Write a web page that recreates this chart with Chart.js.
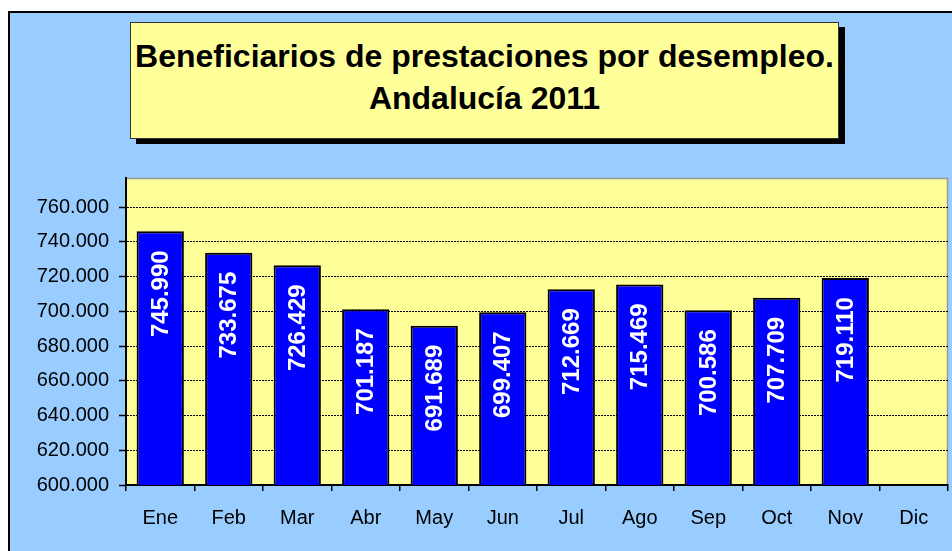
<!DOCTYPE html>
<html>
<head>
<meta charset="utf-8">
<script src="https://cdn.jsdelivr.net/npm/chart.js@4"></script>
<style>
  html, body { margin: 0; padding: 0; background: #fff; }
  #wrap { position: relative; width: 952px; height: 551px; overflow: hidden; }
  #frame {
    position: absolute; left: 8px; top: 11px; width: 960px; height: 560px;
    background: #99ccff; border-left: 2px solid #000; border-top: 2px solid #000;
  }
  #titulo {
    position: absolute; left: 130px; top: 22px; width: 707px; height: 103px;
    background: #ffff99; border: 1px solid #333; box-shadow: 6px 5px 0 #000;
    font-family: "Liberation Sans", Arial, sans-serif; font-weight: bold; font-size: 32px;
    text-align: center; line-height: 42px; padding-top: 12px; box-sizing: content-box;
  }
  #titulo div { height: 42px; }
  canvas { position: absolute; left: 0; top: 0; }
</style>
</head>
<body>
<div id="wrap">
  <div id="frame"></div>
  <div id="titulo"><div>Beneficiarios de prestaciones por desempleo.</div><div>Andalucía 2011</div></div>
  <canvas id="grafico" width="952" height="551"></canvas>
</div>
<script>
const meses = ["Ene", "Feb", "Mar", "Abr", "May", "Jun", "Jul", "Ago", "Sep", "Oct", "Nov", "Dic"]
const beneficiarios = [745990, 733675, 726429, 701187, 691689, 699407, 712669, 715469, 700586, 707709, 719110, null]
const marcas_y = [600000, 620000, 640000, 660000, 680000, 700000, 720000, 740000, 760000]
const eje_min = 600000
const eje_max = 776700

function formatoMiles(v){
    return String(Math.round(v)).replace(/\B(?=(\d{3})+(?!\d))/g, ".")
}

// fondo amarillo del area de trazado y borde gris
const fondoArea = {
    id: "fondoArea",
    beforeDraw(chart){
        const {ctx, chartArea: a} = chart
        ctx.save()
        ctx.fillStyle = "#ffff99"
        ctx.fillRect(a.left, a.top, a.right - a.left, a.bottom - a.top)
        ctx.strokeStyle = "#999999"
        ctx.lineWidth = 1.5
        ctx.beginPath()
        ctx.moveTo(a.left, a.top + 0.5)
        ctx.lineTo(a.right - 0.5, a.top + 0.5)
        ctx.lineTo(a.right - 0.5, a.bottom)
        ctx.stroke()
        ctx.restore()
    }
}

// etiquetas verticales dentro de las barras
const etiquetas = {
    id: "etiquetas",
    afterDatasetsDraw(chart){
        const ctx = chart.ctx
        const meta = chart.getDatasetMeta(0)
        ctx.save()
        ctx.fillStyle = "#ffffff"
        ctx.font = "bold 24px 'Liberation Sans', Arial, sans-serif"
        ctx.textAlign = "right"
        ctx.textBaseline = "middle"
        meta.data.forEach((bar, i) => {
            const v = beneficiarios[i]
            if(v == null) return
            ctx.save()
            ctx.translate(bar.x + 1, bar.y + 19)
            ctx.rotate(-Math.PI / 2)
            ctx.fillText(formatoMiles(v), 0, 0)
            ctx.restore()
        })
        ctx.restore()
    }
}

const fuente = { family: "'Liberation Sans', Arial, sans-serif", size: 20 }

const grafico = new Chart(document.getElementById("grafico"), {
    type: "bar",
    data: {
        labels: meses,
        datasets: [{
            label: "Beneficiarios",
            data: beneficiarios,
            backgroundColor: "#0000ff",
            borderColor: "#000000",
            borderWidth: 2,
            borderSkipped: false,
            categoryPercentage: 1,
            barPercentage: 0.69
        }]
    },
    options: {
        responsive: false,
        animation: false,
        layout: { padding: { left: 0, top: 178, right: 4, bottom: 0 } },
        plugins: {
            legend: { display: false },
            title: { display: false },
            tooltip: { enabled: false }
        },
        scales: {
            x: {
                afterFit: (s) => { s.height = 66 },
                grid: { drawOnChartArea: false, drawTicks: true, tickLength: 6, color: "#000", lineWidth: 1.5 },
                border: { color: "#000", width: 2 },
                ticks: { color: "#000", font: fuente, padding: 15, maxRotation: 0 }
            },
            y: {
                min: eje_min,
                max: eje_max,
                afterFit: (s) => { s.width = 126 },
                afterBuildTicks: (s) => { s.ticks = marcas_y.map(v => ({ value: v })) },
                grid: { color: "#000", lineWidth: 1, tickLength: 7, tickColor: "#000", tickWidth: 1.5 },
                border: { color: "#000", width: 2, dash: [2, 1] },
                ticks: {
                    color: "#000",
                    font: fuente,
                    padding: 10,
                    callback: (v) => formatoMiles(v)
                }
            }
        }
    },
    plugins: [fondoArea, etiquetas]
})
</script>
</body>
</html>
